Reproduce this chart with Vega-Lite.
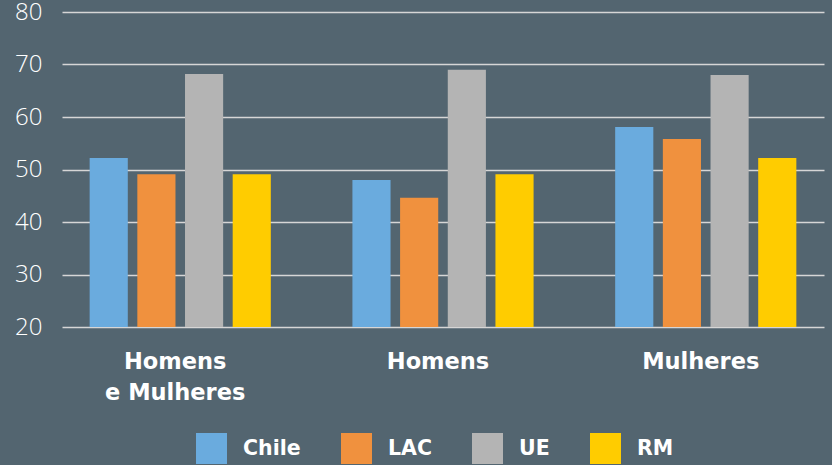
{
  "$schema": "https://vega.github.io/schema/vega-lite/v6.json",
  "autosize": "none",
  "width": 770,
  "height": 315,
  "padding": {"left": 62, "top": 12, "right": 0, "bottom": 138},
  "background": "#536570",
  "data": {
    "values": [
      {"grupo": "Homens e Mulheres", "regiao": "Chile", "valor": 52.2},
      {"grupo": "Homens e Mulheres", "regiao": "LAC", "valor": 49.1},
      {"grupo": "Homens e Mulheres", "regiao": "UE", "valor": 68.2},
      {"grupo": "Homens e Mulheres", "regiao": "RM", "valor": 49.1},
      {"grupo": "Homens", "regiao": "Chile", "valor": 48.0},
      {"grupo": "Homens", "regiao": "LAC", "valor": 44.6},
      {"grupo": "Homens", "regiao": "UE", "valor": 69.0},
      {"grupo": "Homens", "regiao": "RM", "valor": 49.1},
      {"grupo": "Mulheres", "regiao": "Chile", "valor": 58.1},
      {"grupo": "Mulheres", "regiao": "LAC", "valor": 55.8},
      {"grupo": "Mulheres", "regiao": "UE", "valor": 68.0},
      {"grupo": "Mulheres", "regiao": "RM", "valor": 52.2}
    ]
  },
  "mark": {"type": "bar", "clip": true},
  "encoding": {
    "x": {
      "field": "grupo",
      "type": "nominal",
      "sort": ["Homens e Mulheres", "Homens", "Mulheres"],
      "scale": {"paddingInner": 0.1, "paddingOuter": 0, "range": [0, 762]},
      "axis": {
        "title": null,
        "domain": false,
        "ticks": false,
        "labelAngle": 0,
        "labelFont": "DejaVu Sans",
        "labelFontWeight": "bold",
        "labelFontSize": 22.5,
        "labelColor": "#ffffff",
        "labelPadding": 23,
        "labelOffset": -5,
        "labelLineHeight": 31,
        "labelExpr": "datum.value == 'Homens e Mulheres' ? ['Homens', 'e Mulheres'] : datum.value"
      }
    },
    "xOffset": {
      "field": "regiao",
      "type": "nominal",
      "sort": ["Chile", "LAC", "UE", "RM"],
      "scale": {"paddingInner": 0.2, "paddingOuter": 0.58}
    },
    "y": {
      "field": "valor",
      "type": "quantitative",
      "scale": {"domain": [20, 80], "nice": false, "zero": false},
      "axis": {
        "title": null,
        "domain": false,
        "ticks": false,
        "values": [20, 30, 40, 50, 60, 70, 80],
        "grid": true,
        "gridColor": "#d6d6d6",
        "gridWidth": 1.5,
        "labelFont": "Open Sans",
        "labelFontWeight": 300,
        "labelFontSize": 24,
        "labelColor": "#ffffff",
        "labelPadding": 20
      }
    },
    "color": {
      "field": "regiao",
      "type": "nominal",
      "sort": ["Chile", "LAC", "UE", "RM"],
      "scale": {
        "domain": ["Chile", "LAC", "UE", "RM"],
        "range": ["#6aabde", "#f0913e", "#b4b4b4", "#ffcc00"]
      },
      "legend": {
        "title": null,
        "orient": "none",
        "direction": "horizontal",
        "legendX": 134,
        "legendY": 421,
        "symbolType": "square",
        "symbolSize": 961,
        "symbolStrokeWidth": 0,
        "symbolOpacity": 1,
        "labelFont": "DejaVu Sans",
        "labelFontWeight": "bold",
        "labelFontSize": 20.5,
        "labelColor": "#ffffff",
        "labelOffset": 16,
        "columnPadding": 40
      }
    }
  },
  "config": {
    "view": {"stroke": null},
    "axis": {"gridOpacity": 1}
  }
}
